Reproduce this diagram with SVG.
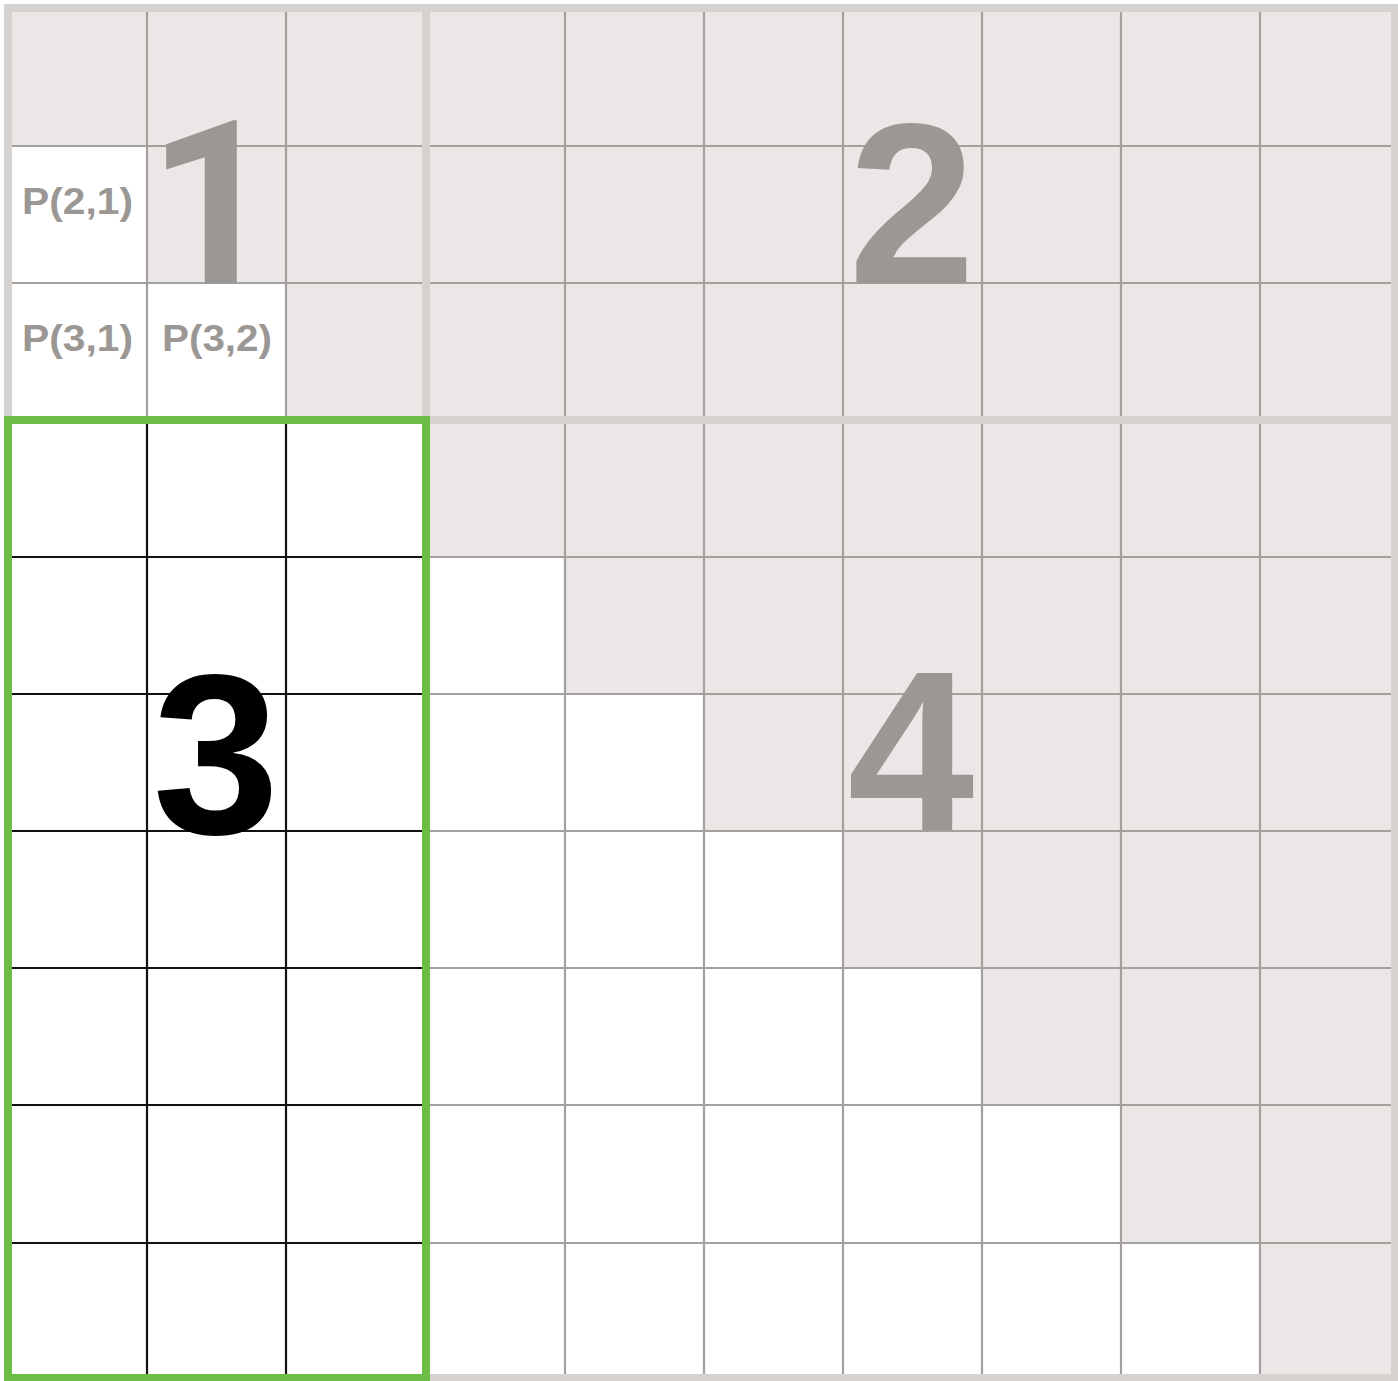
<svg xmlns="http://www.w3.org/2000/svg" width="1398" height="1381" viewBox="0 0 1398 1381">
<style>
.g{fill:#ebe7e6}
.gl{stroke:#a3a09e;stroke-width:2.2;fill:none}
.bl{stroke:#111;stroke-width:2.2;fill:none}
.part{stroke:#d6d2d0;stroke-width:8;fill:none}
.big{font-family:"Liberation Sans",Arial,sans-serif;font-weight:bold;font-size:228px;text-anchor:middle}
.one{font-family:Roboto,"Liberation Sans",sans-serif}
.lbl{font-family:"Liberation Sans",Arial,sans-serif;font-weight:bold;font-size:36px;fill:#9b9795;text-anchor:middle}
</style>
<rect x="0" y="0" width="1398" height="1381" fill="#fff"/>
<g id="cells">
<rect class="g" x="426" y="8" width="969" height="412"/>
<rect class="g" x="8" y="8" width="418" height="138"/>
<rect class="g" x="147" y="146" width="279" height="137"/>
<rect class="g" x="286" y="283" width="140" height="137"/>
<rect class="g" x="426" y="420" width="969" height="137"/>
<rect class="g" x="565" y="557" width="830" height="137"/>
<rect class="g" x="704" y="694" width="691" height="137"/>
<rect class="g" x="843" y="831" width="552" height="137"/>
<rect class="g" x="982" y="968" width="413" height="137"/>
<rect class="g" x="1121" y="1105" width="274" height="138"/>
<rect class="g" x="1260" y="1243" width="135" height="135"/>
</g>
<g id="connectors">
<path class="gl" d="M147 8V420M286 8V420M565 8V1378M704 8V1378M843 8V1378M982 8V1378M1121 8V1378M1260 8V1378"/>
<path class="gl" d="M8 146H1395M8 283H1395M426 557H1395M426 694H1395M426 831H1395M426 968H1395M426 1105H1395M426 1243H1395"/>
<path class="bl" d="M147 420V1378M286 420V1378M8 557H426M8 694H426M8 831H426M8 968H426M8 1105H426M8 1243H426"/>
<path class="part" d="M426 8V420M426 420H1395"/>
<rect class="part" x="8" y="8" width="1387" height="1370"/>
<rect id="block3-frame" x="8" y="420" width="418" height="958" fill="none" stroke="#6cbd45" stroke-width="8"/>
</g>
<g id="block1"><text class="big one" x="213" y="283" fill="#9b9795">1</text></g>
<g id="block2"><text class="big" x="912" y="283" fill="#9b9795">2</text></g>
<g id="block3"><text class="big" x="216" y="833" fill="#000">3</text></g>
<g id="block4"><text class="big" x="911" y="830" fill="#9b9795">4</text></g>
<g id="p21"><text class="lbl" x="77.5" y="214" textLength="111" lengthAdjust="spacingAndGlyphs">P(2,1)</text></g>
<g id="p31"><text class="lbl" x="77.5" y="351" textLength="111" lengthAdjust="spacingAndGlyphs">P(3,1)</text></g>
<g id="p32"><text class="lbl" x="217" y="351" textLength="110" lengthAdjust="spacingAndGlyphs">P(3,2)</text></g>
</svg>
